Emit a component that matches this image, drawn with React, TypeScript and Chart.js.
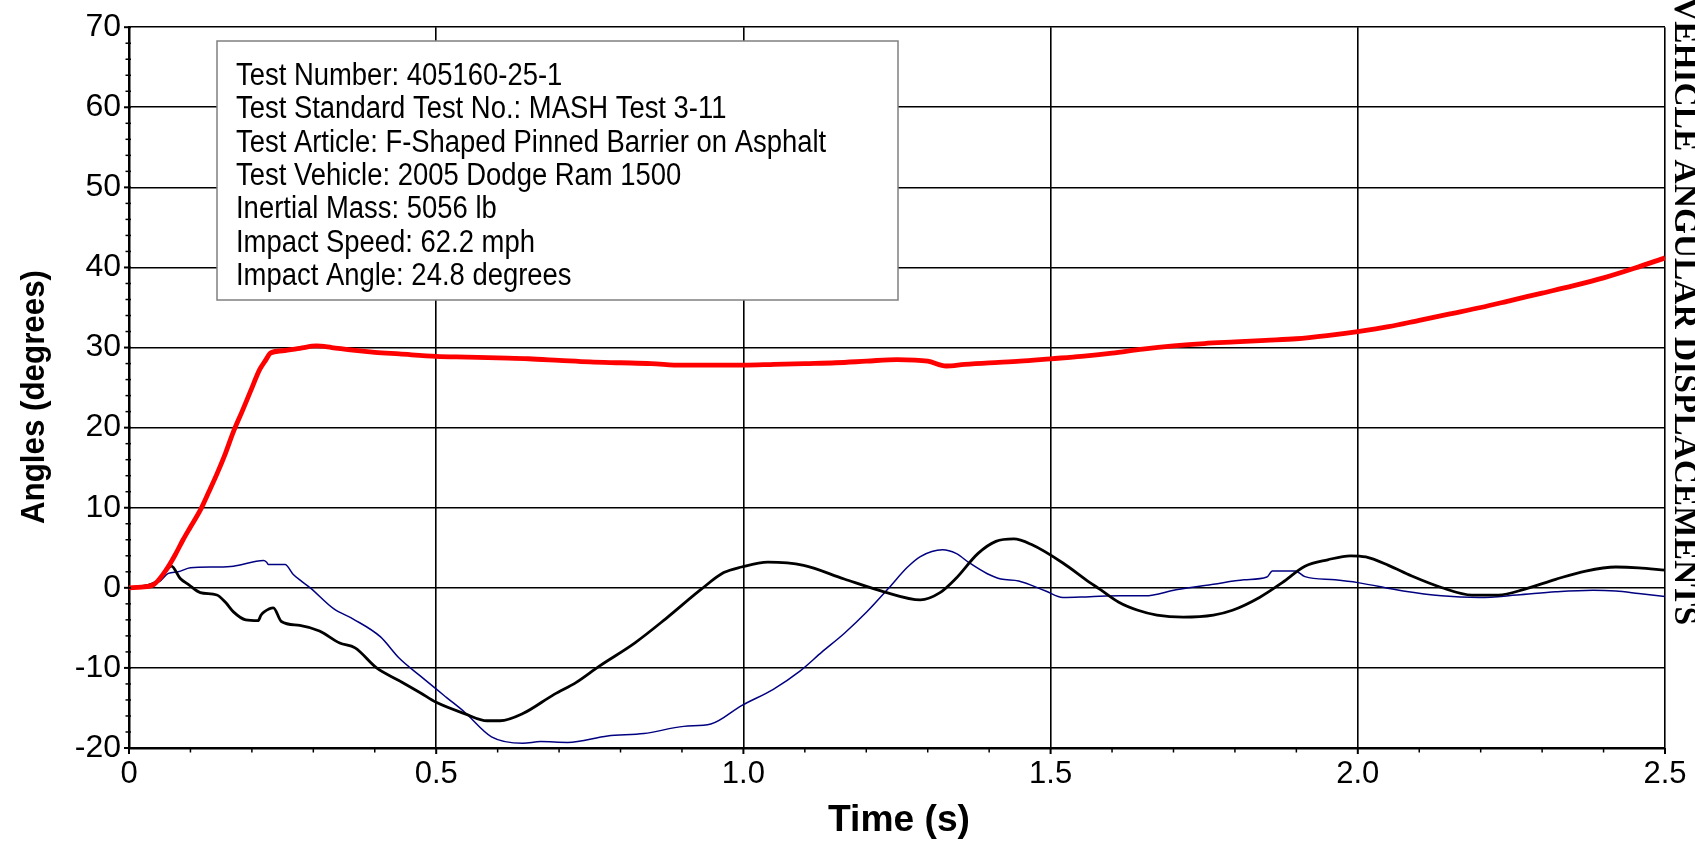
import React, { useEffect, useRef } from 'react';
import { Chart, registerables } from 'chart.js';

Chart.register(...registerables);

// ---- data (time in s, angle in degrees) ----
const yawTime = [0, 0.02, 0.04, 0.061, 0.075, 0.088, 0.1, 0.116, 0.13, 0.143, 0.157, 0.17, 0.184, 0.197, 0.213, 0.223, 0.23, 0.25, 0.278, 0.305, 0.33, 0.36, 0.4, 0.44, 0.5, 0.55, 0.6, 0.65, 0.7, 0.75, 0.8, 0.85, 0.9, 0.95, 1.0, 1.05, 1.1, 1.15, 1.2, 1.25, 1.3, 1.33, 1.36, 1.4, 1.45, 1.5, 1.55, 1.6, 1.65, 1.7, 1.75, 1.8, 1.85, 1.9, 1.95, 2.0, 2.05, 2.1, 2.15, 2.2, 2.25, 2.3, 2.35, 2.4, 2.45, 2.5];
const yawAngle = [0, 0.1, 0.4, 2.3, 4.1, 6.0, 7.6, 9.7, 12.0, 14.2, 16.8, 19.5, 22.0, 24.4, 27.3, 28.5, 29.3, 29.6, 29.9, 30.2, 30.0, 29.7, 29.4, 29.2, 28.9, 28.8, 28.7, 28.6, 28.4, 28.2, 28.1, 28.0, 27.8, 27.8, 27.8, 27.9, 28.0, 28.1, 28.3, 28.5, 28.3, 27.7, 27.9, 28.1, 28.3, 28.6, 28.9, 29.3, 29.8, 30.2, 30.5, 30.7, 30.9, 31.1, 31.5, 32.0, 32.6, 33.4, 34.2, 35.0, 35.9, 36.8, 37.7, 38.7, 39.9, 41.2];

const rollTime = [0, 0.03, 0.05, 0.069, 0.083, 0.097, 0.116, 0.143, 0.157, 0.17, 0.19, 0.21, 0.215, 0.22, 0.235, 0.248, 0.278, 0.31, 0.343, 0.368, 0.403, 0.44, 0.474, 0.5, 0.546, 0.583, 0.604, 0.641, 0.692, 0.728, 0.765, 0.823, 0.873, 0.931, 0.968, 0.997, 1.04, 1.098, 1.164, 1.229, 1.288, 1.32, 1.345, 1.382, 1.411, 1.44, 1.469, 1.52, 1.564, 1.58, 1.611, 1.642, 1.673, 1.716, 1.765, 1.796, 1.84, 1.877, 1.914, 1.951, 1.988, 2.013, 2.05, 2.087, 2.136, 2.186, 2.229, 2.272, 2.322, 2.371, 2.42, 2.457, 2.5];
const rollAngle = [0, 0.3, 1.0, 2.7, 1.2, 0.4, -0.6, -0.9, -1.8, -3.0, -4.0, -4.1, -3.4, -3.0, -2.5, -4.2, -4.7, -5.4, -6.9, -7.5, -10.0, -11.6, -13.1, -14.3, -15.7, -16.6, -16.6, -15.7, -13.3, -11.8, -9.8, -6.9, -3.9, -0.2, 1.9, 2.6, 3.2, 2.8, 1.1, -0.5, -1.5, -0.6, 1.1, 4.3, 5.8, 6.1, 5.4, 3.1, 0.65, -0.16, -1.8, -2.8, -3.4, -3.65, -3.4, -2.8, -1.2, 0.65, 2.7, 3.5, 4.0, 3.85, 2.8, 1.5, 0.04, -0.9, -0.9, -0.16, 1.06, 2.1, 2.6, 2.5, 2.2];

const pitchTime = [0, 0.03, 0.05, 0.064, 0.08, 0.1, 0.143, 0.17, 0.219, 0.224, 0.227, 0.254, 0.267, 0.281, 0.295, 0.333, 0.365, 0.409, 0.44, 0.474, 0.517, 0.546, 0.59, 0.641, 0.67, 0.714, 0.779, 0.838, 0.903, 0.947, 0.997, 1.048, 1.092, 1.128, 1.164, 1.201, 1.237, 1.266, 1.288, 1.324, 1.346, 1.368, 1.397, 1.419, 1.448, 1.492, 1.52, 1.564, 1.613, 1.654, 1.704, 1.765, 1.815, 1.852, 1.861, 1.898, 1.914, 1.963, 2.0, 2.074, 2.136, 2.198, 2.259, 2.322, 2.383, 2.42, 2.457, 2.5];
const pitchAngle = [0, 0.3, 0.8, 1.8, 2.0, 2.5, 2.6, 2.7, 3.4, 3.2, 2.9, 2.9, 1.7, 0.8, 0, -2.6, -3.9, -6.1, -8.8, -11.0, -13.7, -15.5, -18.6, -19.4, -19.2, -19.3, -18.5, -18.2, -17.3, -17.0, -14.7, -12.7, -10.4, -8.0, -5.7, -3.0, 0.0, 2.5, 3.9, 4.75, 4.3, 3.1, 1.76, 1.1, 0.86, -0.4, -1.2, -1.1, -1.0, -1.0, -0.25, 0.45, 1.0, 1.35, 2.1, 2.1, 1.4, 1.0, 0.65, -0.4, -1.0, -1.2, -0.9, -0.5, -0.3, -0.4, -0.7, -1.07];

const xTickLabels = ['0', '0.5', '1.0', '1.5', '2.0', '2.5'];
const yTickLabels = ['-20', '-10', '0', '10', '20', '30', '40', '50', '60', '70'];

const infoLines = [
  'Test Number: 405160-25-1',
  'Test Standard Test No.: MASH Test 3-11',
  'Test Article: F-Shaped Pinned Barrier on Asphalt',
  'Test Vehicle: 2005 Dodge Ram 1500',
  'Inertial Mass: 5056 lb',
  'Impact Speed: 62.2 mph',
  'Impact Angle: 24.8 degrees',
];
const xTitle = 'Time (s)';
const yTitle = 'Angles (degrees)';
const sideTitle = 'VEHICLE ANGULAR DISPLACEMENTS';

const SANS = '"Liberation Sans", Arial, sans-serif';
const SERIF = '"Liberation Serif", "Times New Roman", serif';

function pts(t: number[], v: number[]) {
  return t.map((x, i) => ({ x, y: v[i] }));
}

function drawStretched(ctx: CanvasRenderingContext2D, text: string, font: string, targetWidth: number, align: 'left' | 'center') {
  ctx.font = font;
  const w = ctx.measureText(text).width;
  const s = targetWidth / w;
  ctx.save();
  ctx.scale(s, 1);
  ctx.textAlign = align;
  ctx.textBaseline = 'alphabetic';
  ctx.fillText(text, 0, 0);
  ctx.restore();
}

const overlay = {
  id: 'overlay',
  afterDraw(chart: any) {
    const ctx: CanvasRenderingContext2D = chart.ctx;
    const xs = chart.scales.x;
    const ys = chart.scales.y;
    const area = chart.chartArea;
    ctx.save();
    ctx.strokeStyle = '#000';
    // x ticks (major + minor)
    for (let i = 0; i <= 25; i++) {
      const px = xs.getPixelForValue(i / 10);
      const major = i % 5 === 0;
      ctx.lineWidth = major ? 2 : 1.5;
      ctx.beginPath();
      ctx.moveTo(px, area.bottom);
      ctx.lineTo(px, area.bottom + (major ? 6 : 4.5));
      ctx.stroke();
    }
    // y ticks (major + minor)
    for (let i = -10; i <= 35; i++) {
      const v = i * 2;
      const py = ys.getPixelForValue(v);
      const major = v % 10 === 0;
      ctx.lineWidth = major ? 2 : 1.5;
      ctx.beginPath();
      ctx.moveTo(area.left - (major ? 5 : 3.5), py);
      ctx.lineTo(area.left + 2, py);
      ctx.stroke();
    }

    // info box
    const bx = 217, by = 41, bw = 681, bh = 259;
    ctx.fillStyle = '#fff';
    ctx.fillRect(bx, by, bw, bh);
    ctx.strokeStyle = '#808080';
    ctx.lineWidth = 1.5;
    ctx.strokeRect(bx, by, bw, bh);
    ctx.fillStyle = '#000';
    ctx.font = '31px ' + SANS;
    ctx.textAlign = 'left';
    ctx.textBaseline = 'alphabetic';
    infoLines.forEach((line, i) => {
      ctx.save();
      ctx.translate(236, 85 + i * 33.3);
      ctx.scale(0.885, 1);
      ctx.fillText(line, 0, 0);
      ctx.restore();
    });

    // x title
    ctx.save();
    ctx.translate(899, 831);
    drawStretched(ctx, xTitle, 'bold 37px ' + SANS, 142, 'center');
    ctx.restore();

    // y title
    ctx.save();
    ctx.translate(44, 397);
    ctx.rotate(-Math.PI / 2);
    drawStretched(ctx, yTitle, 'bold 34px ' + SANS, 254, 'center');
    ctx.restore();

    // side title
    ctx.save();
    ctx.translate(1675, -3);
    ctx.rotate(Math.PI / 2);
    drawStretched(ctx, sideTitle, 'bold 34px ' + SERIF, 628, 'left');
    ctx.restore();

    ctx.restore();
  },
};

export default function App() {
  const ref = useRef<HTMLCanvasElement | null>(null);
  useEffect(() => {
    if (!ref.current) return;
    const line = { pointRadius: 0, cubicInterpolationMode: 'monotone' as const, fill: false };
    const chart = new Chart(ref.current, {
      type: 'line',
      data: {
        datasets: [
          { label: 'Yaw', data: pts(yawTime, yawAngle), borderColor: '#ff0000', borderWidth: 4.8, ...line },
          { label: 'Roll', data: pts(rollTime, rollAngle), borderColor: '#000000', borderWidth: 2.8, ...line },
          { label: 'Pitch', data: pts(pitchTime, pitchAngle), borderColor: '#000080', borderWidth: 1.5, ...line },
        ],
      },
      options: {
        animation: false,
        responsive: false,
        devicePixelRatio: 1,
        layout: { padding: { left: 0, right: 30, top: 16, bottom: 0 } },
        plugins: { legend: { display: false }, tooltip: { enabled: false }, title: { display: false } },
        scales: {
          x: {
            type: 'linear',
            min: 0,
            max: 2.5,
            afterFit: (s: any) => { s.height = 94; },
            afterBuildTicks: (s: any) => { s.ticks = xTickLabels.map((l) => ({ value: parseFloat(l) })); },
            ticks: {
              callback: (v: any, i: number) => xTickLabels[i],
              font: { family: SANS, size: 31 },
              color: '#000',
              padding: 8,
              maxRotation: 0,
              autoSkip: false,
            },
            grid: { color: '#000', lineWidth: 1.6, drawTicks: false },
            border: { display: true, color: '#000', width: 2.5 },
          },
          y: {
            type: 'linear',
            min: -20,
            max: 70,
            afterFit: (s: any) => { s.width = 129; },
            afterBuildTicks: (s: any) => { s.ticks = yTickLabels.map((l) => ({ value: parseFloat(l) })); },
            ticks: {
              callback: (v: any, i: number) => yTickLabels[i],
              font: { family: SANS, size: 32 },
              color: '#000',
              padding: 8,
              autoSkip: false,
            },
            grid: { color: '#000', lineWidth: 1.6, drawTicks: false },
            border: { display: true, color: '#000', width: 2.5 },
          },
        },
      },
      plugins: [overlay],
    });
    return () => chart.destroy();
  }, []);
  return (
    <div style={{ position: 'absolute', left: 0, top: 0, width: 1695, height: 842, background: '#fff' }}>
      <canvas ref={ref} width={1695} height={842} style={{ display: 'block', width: 1695, height: 842 }} />
    </div>
  );
}
